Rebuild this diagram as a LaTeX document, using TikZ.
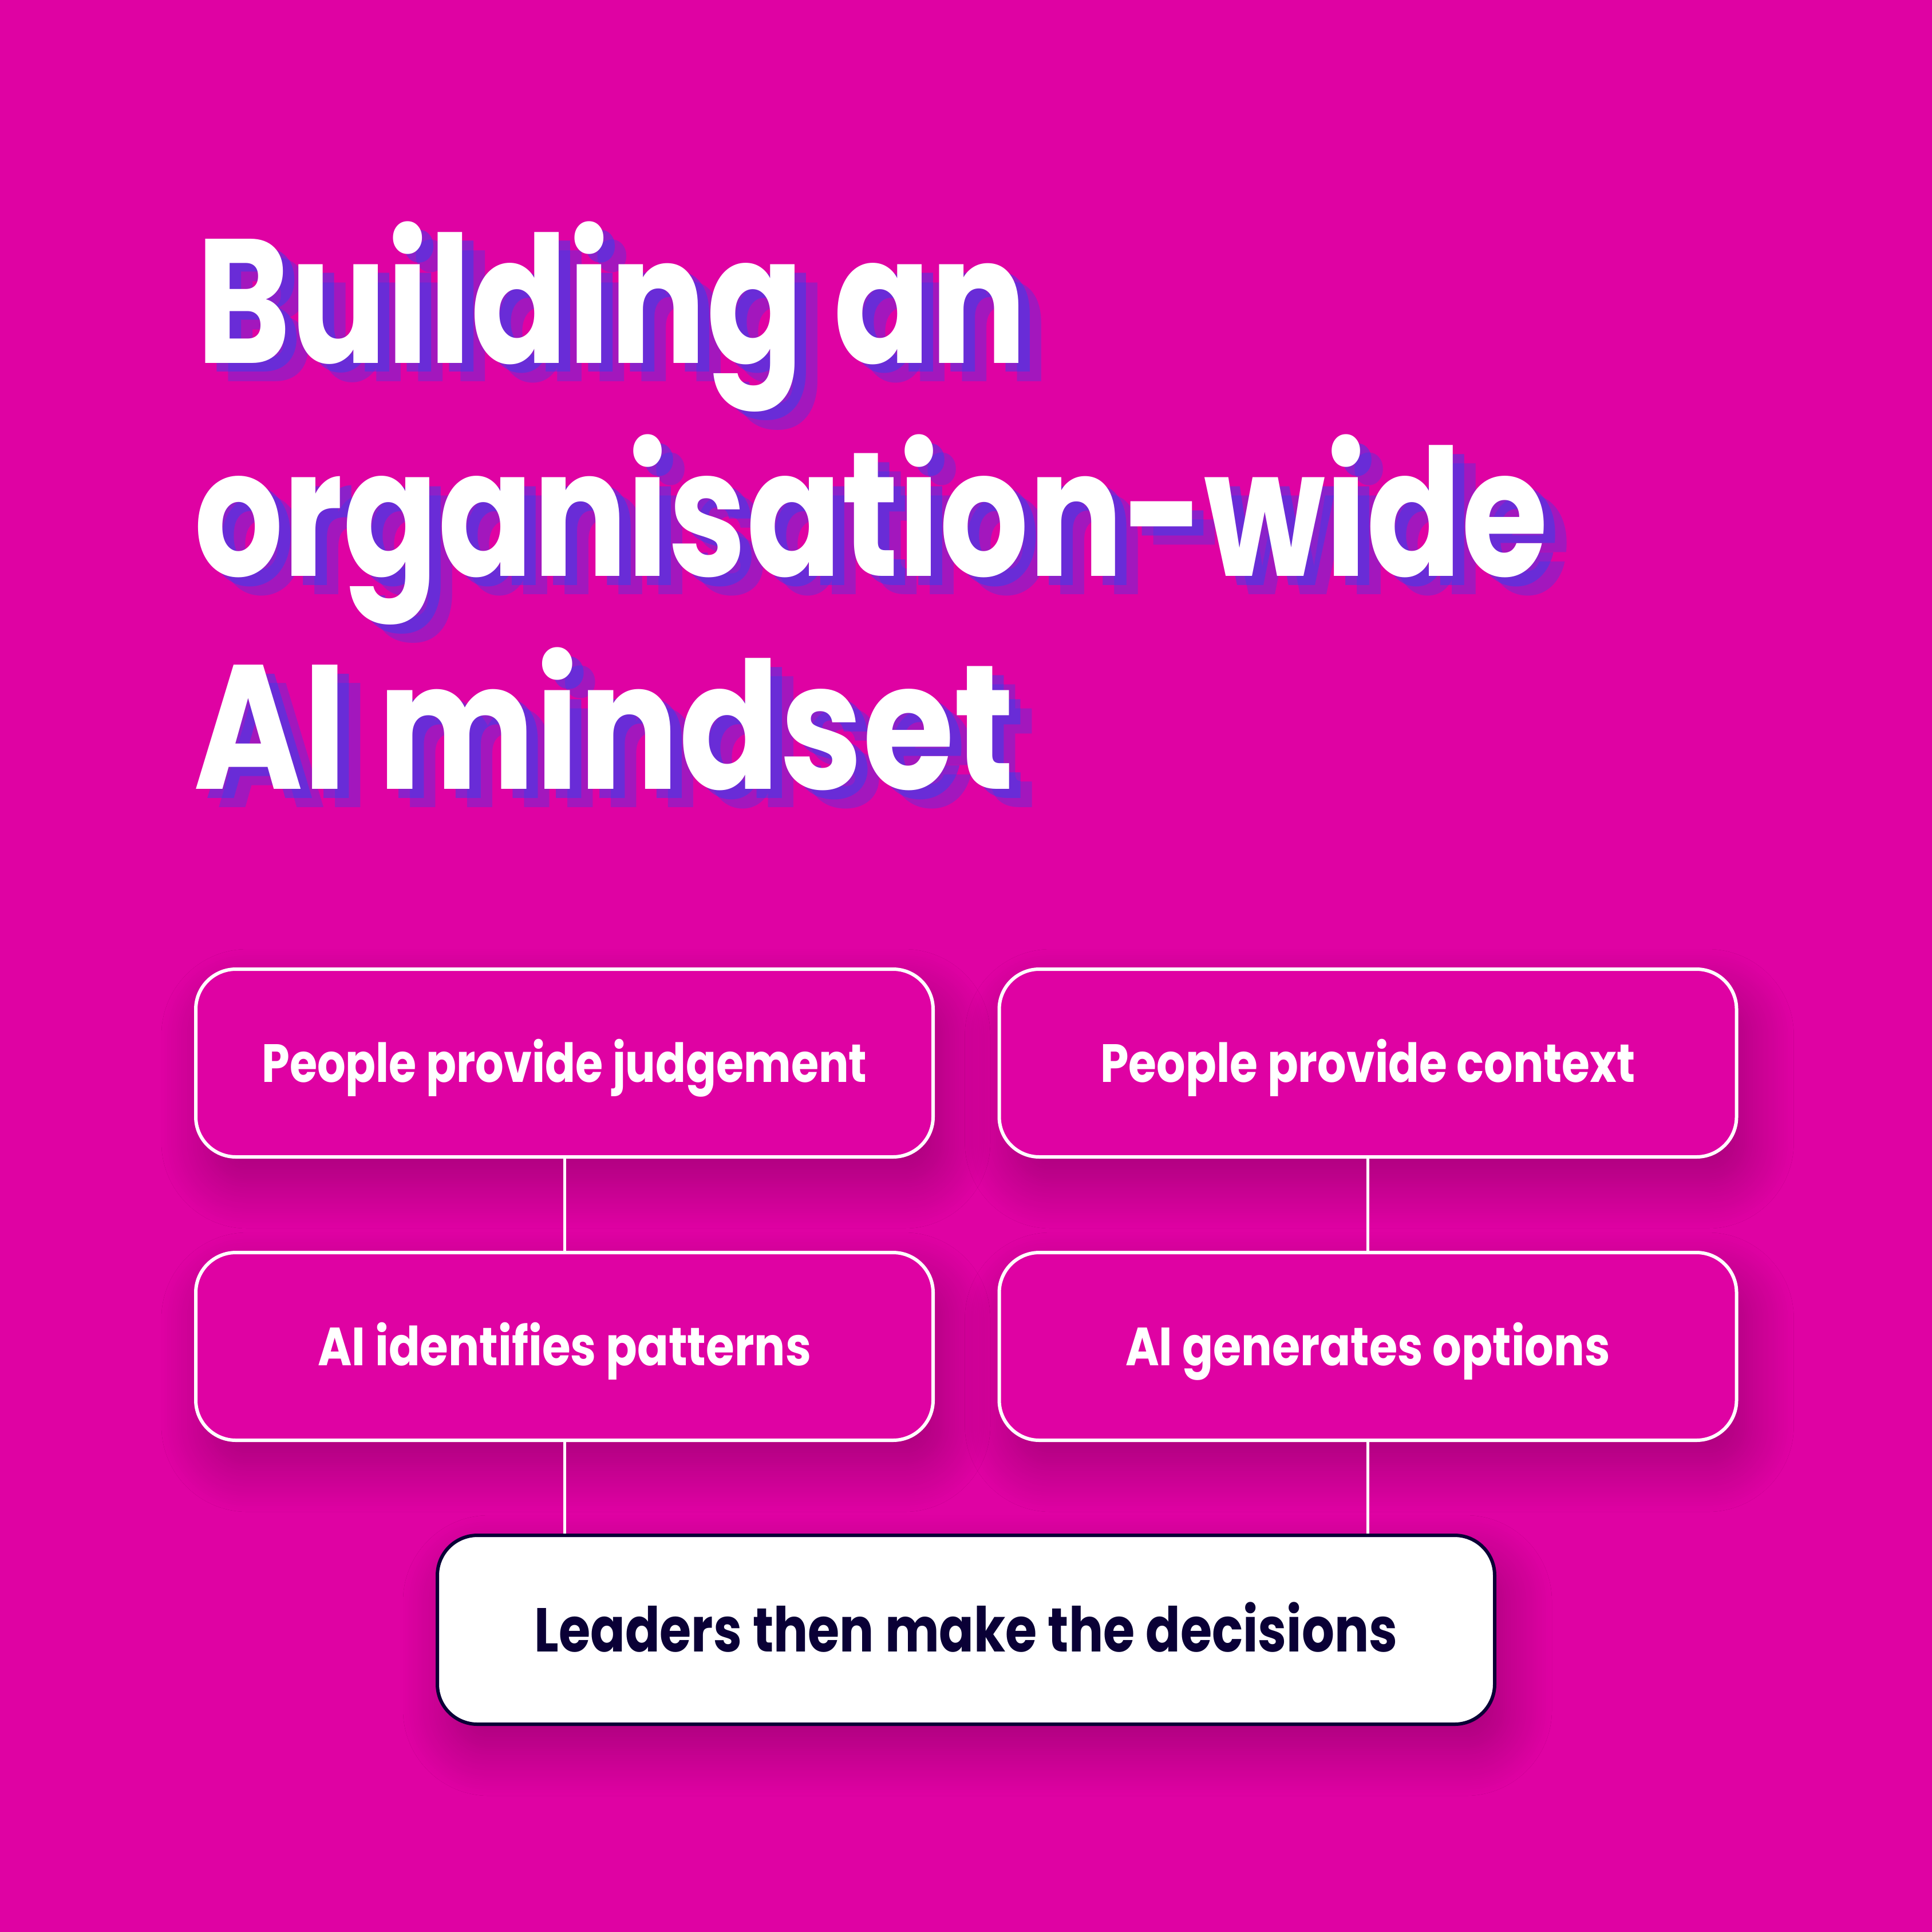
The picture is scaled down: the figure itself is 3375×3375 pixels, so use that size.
\documentclass[tikz,border=0pt]{standalone}
\usepackage{fontspec}
\setmainfont{Poppins}
\usetikzlibrary{shadows.blur}
\definecolor{bgmag}{HTML}{DF02A3}
\definecolor{shadeblue}{RGB}{32,73,250}
\definecolor{navy}{HTML}{0A0036}
\newbox\fitA
\newbox\fitB
\newdimen\fitH
\newdimen\fitW
% #1 target width (px), #2 cap height (px), #3 text ; 1px = 0.1mm = 0.284528pt
\newcommand\fitt[3]{%
  \setbox\fitA=\hbox{\fontsize{10pt}{10pt}\selectfont\bfseries H}%
  \fitH=\ht\fitA
  \pgfmathsetmacro\fitfs{#2*0.284528*10/\fitH}%
  \setbox\fitB=\hbox{\fontsize{\fitfs pt}{\fitfs pt}\selectfont\bfseries #3}%
  \fitW=\wd\fitB
  \pgfmathsetmacro\fitsx{#1*0.284528/\fitW}%
  \scalebox{\fitsx}[1]{\box\fitB}}
\tikzset{
  ttl/.style={anchor=base west, inner sep=0pt, outer sep=0pt, text=white},
  ttlshb/.style={ttl, text=shadeblue, text opacity=0.31},
  ttlsha/.style={ttl, text=shadeblue, text opacity=0.44},
  boxshadow/.style={blur shadow={shadow xshift=2mm, shadow yshift=-4.5mm,
      shadow blur radius=8mm, shadow blur steps=24, shadow opacity=26}},
  wbox/.style={boxshadow, draw=white, line width=0.6mm, fill=bgmag,
      rounded corners=7mm, minimum width=128.8mm, minimum height=32.8mm,
      inner sep=0pt, text=white, text height=6.6mm, text depth=0pt},
  dbox/.style={boxshadow, draw=navy, line width=0.6mm, fill=white,
      rounded corners=7mm, minimum width=184.7mm, minimum height=33mm,
      inner sep=0pt, text=navy, text height=7.6mm, text depth=0pt},
  conn/.style={draw=white, line width=0.5mm},
}
\begin{document}
\begin{tikzpicture}[x=0.1mm, y=-0.1mm]
\useasboundingbox (0,0) rectangle (3375,3375);
\fill[bgmag] (0,0) rectangle (3375,3375);

% title, line 1
\node[ttlshb] (t1b) at (343+40,634+32) {\fitt{1451}{217}{Building an}};
\node[ttlsha] (t1a) at (343+20,634+16) {\fitt{1451}{217}{Building an}};
\node[ttl]    (t1)  at (343,634)       {\fitt{1451}{217}{Building an}};
% title, line 2
\node[ttlshb] (t2b) at (339+40,1006+32) {\fitt{2365}{217}{organisation-wide}};
\node[ttlsha] (t2a) at (339+20,1006+16) {\fitt{2365}{217}{organisation-wide}};
\node[ttl]    (t2)  at (339,1006)       {\fitt{2365}{217}{organisation-wide}};
% title, line 3
\node[ttlshb] (t3b) at (338+40,1378+32) {\fitt{1434}{217}{AI mindset}};
\node[ttlsha] (t3a) at (338+20,1378+16) {\fitt{1434}{217}{AI mindset}};
\node[ttl]    (t3)  at (338,1378)       {\fitt{1434}{217}{AI mindset}};

% boxes
\node[wbox] (tl) at (986,1857)    {\fitt{1057}{66}{People provide judgement}};
\node[wbox] (tr) at (2389.5,1857) {\fitt{934}{66}{People provide context}};
\node[wbox] (ml) at (986,2352)    {\fitt{862}{66}{AI identifies patterns}};
\node[wbox] (mr) at (2389.5,2352) {\fitt{847}{66}{AI generates options}};
\node[dbox] (ld) at (1687.5,2847) {\fitt{1508}{76}{Leaders then make the decisions}};

% connectors
\draw[conn] (tl.south) -- (ml.north);
\draw[conn] (tr.south) -- (mr.north);
\draw[conn] (ml.south) -- (ml.south |- ld.north);
\draw[conn] (mr.south) -- (mr.south |- ld.north);
\end{tikzpicture}
\end{document}
